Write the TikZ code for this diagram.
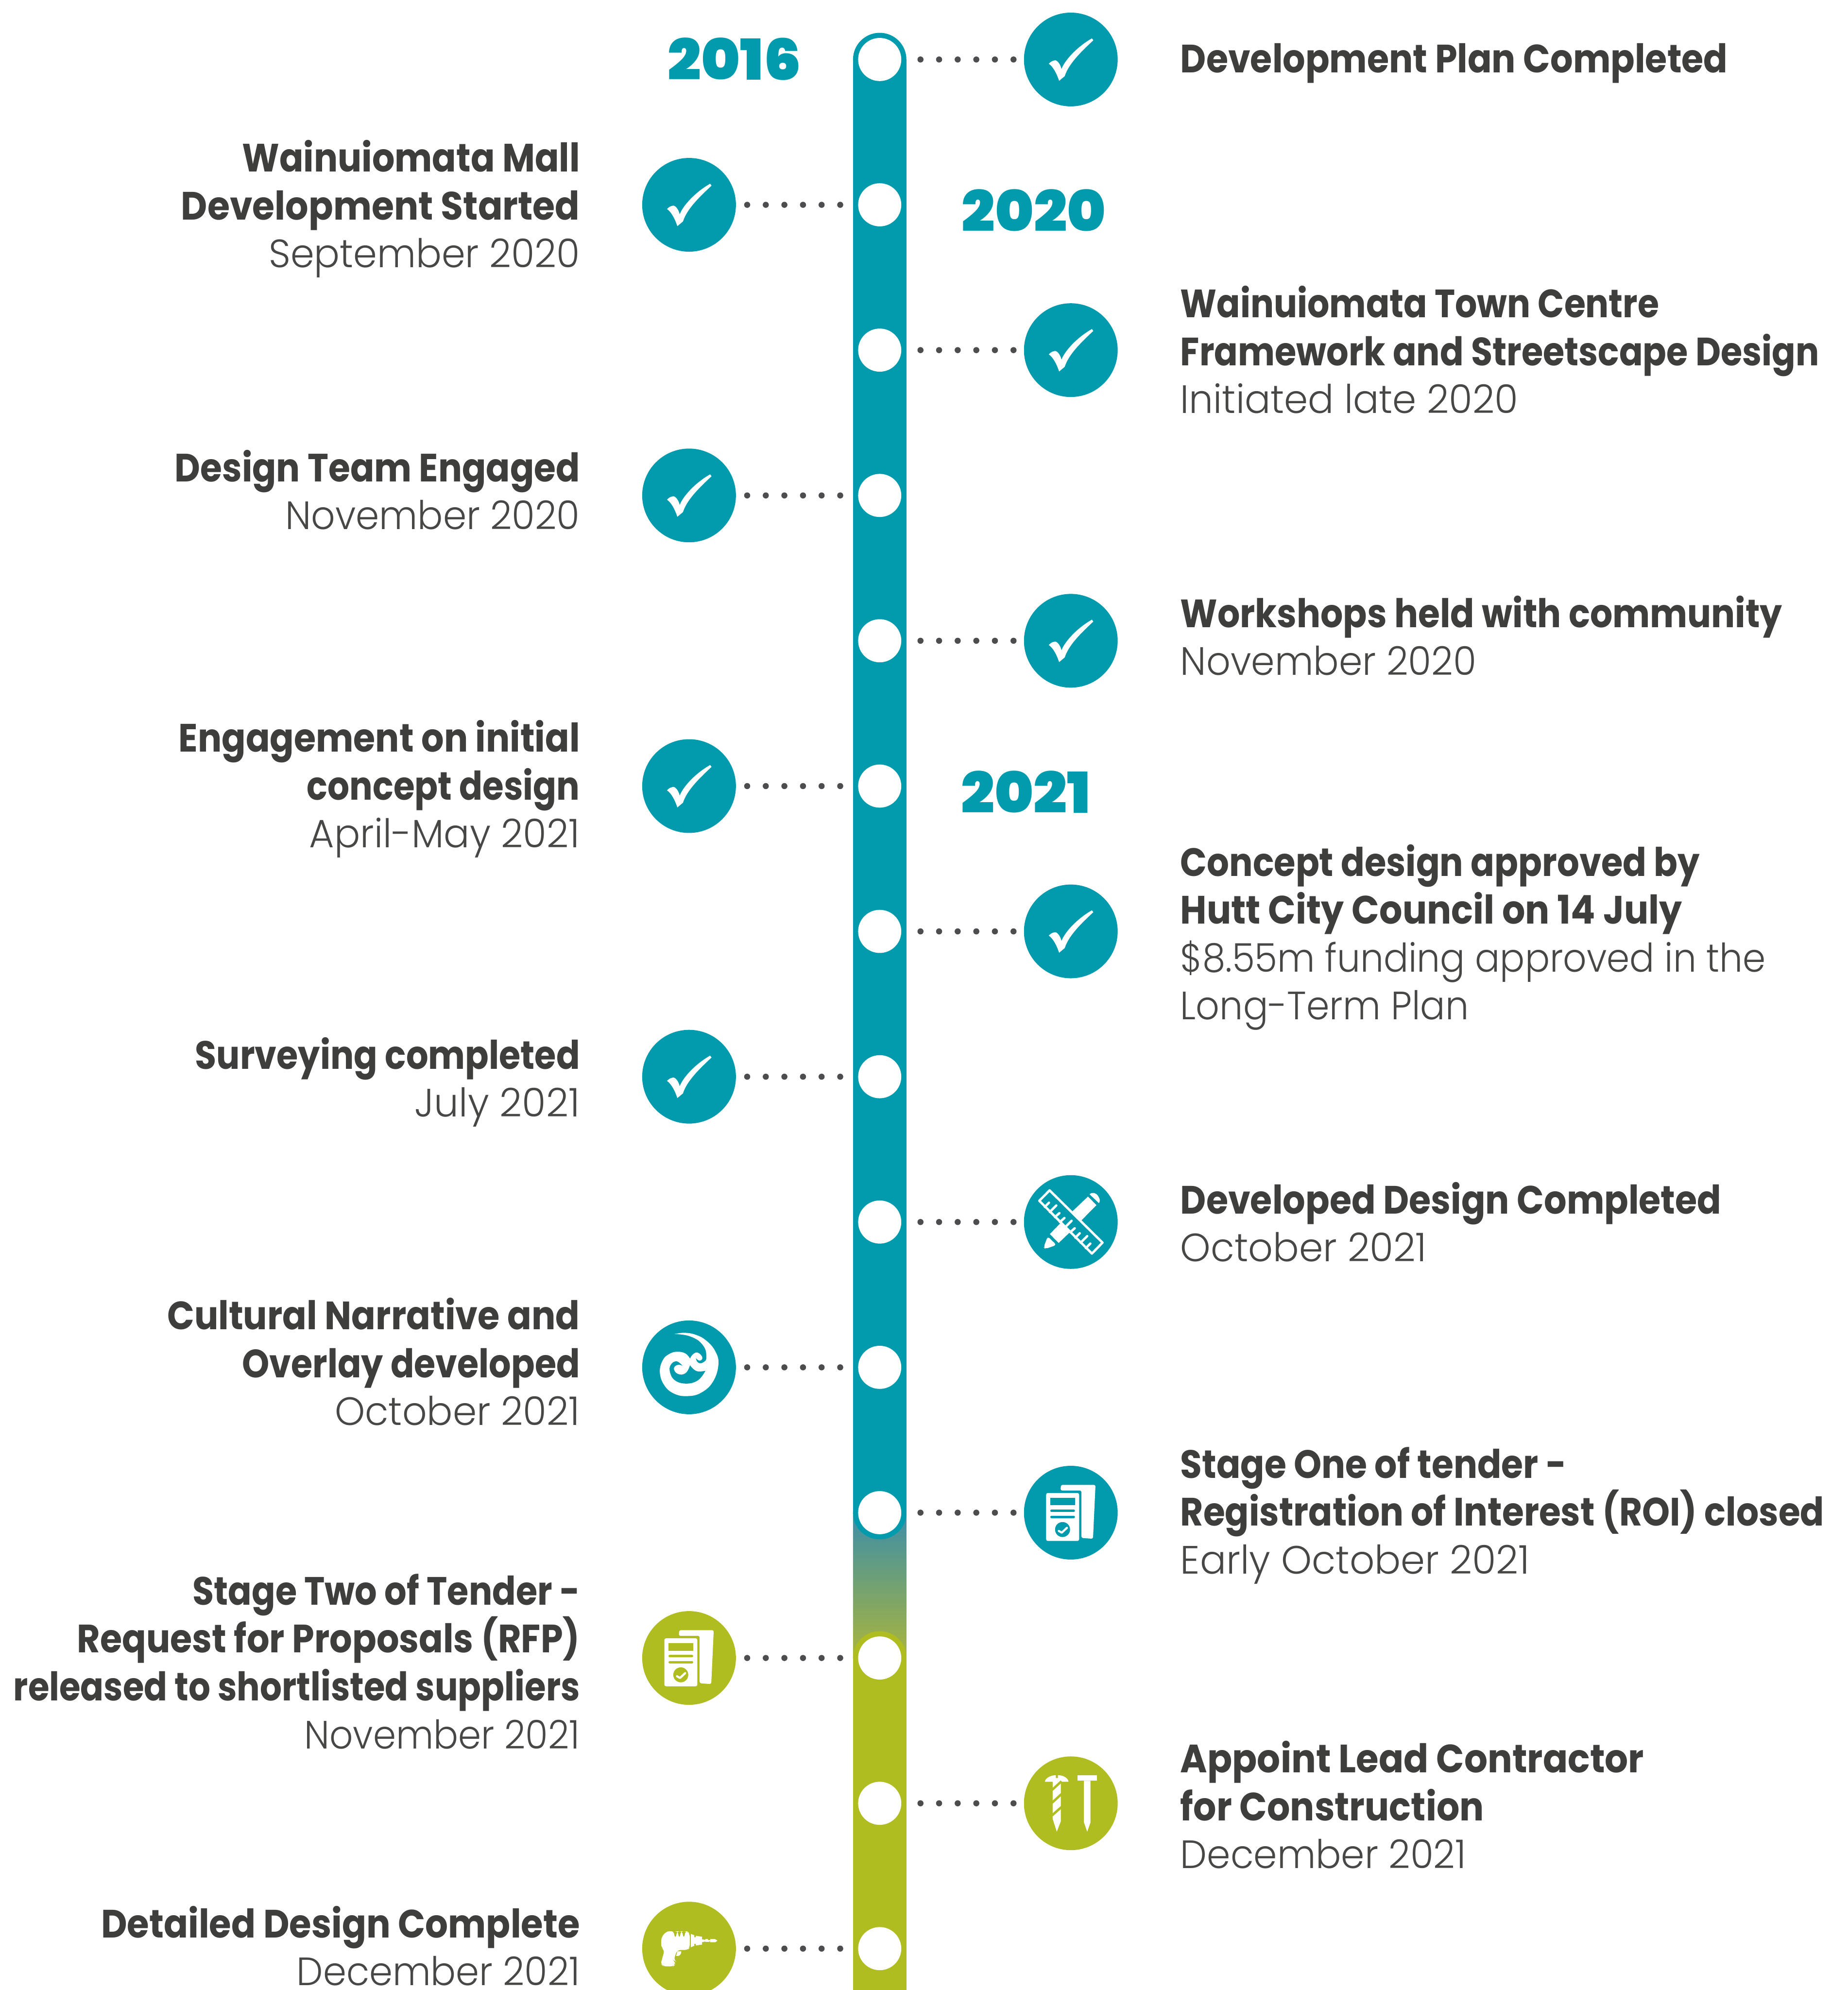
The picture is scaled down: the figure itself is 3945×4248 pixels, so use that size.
\documentclass[tikz,border=0pt]{standalone}
\usepackage{fontspec}
\usepackage{graphicx}
\setmainfont{Poppins}
\newfontfamily\fbold{Poppins Bold}
\newfontfamily\flight{Poppins Light}
\newfontfamily\fyear{Poppins Black}
\definecolor{tealc}{HTML}{029BAD}
\definecolor{olivec}{HTML}{AFBD21}
\definecolor{dotc}{HTML}{4D4D4F}
\definecolor{boldc}{HTML}{3E3E3D}
\definecolor{lightc}{HTML}{474746}
% one printed line, set to the width it has in the reference (in units of the shrunk view)
\newlength{\fitw}
\newcommand{\fit}[2]{\setlength{\fitw}{#1\dimexpr 0.27095mm\relax}\resizebox{\fitw}{\height}{#2}}
\newcommand{\bt}[2]{\fit{#1}{#2}}
\newcommand{\lt}[2]{\fit{#1}{\flight\color{lightc}#2}}
\newcommand{\fst}{\rule{0pt}{22.76pt}}
\tikzset{
 wp/.style={circle,fill=white,minimum size=0.92cm,inner sep=0,outer sep=0},
 iconbg/.style={circle,minimum size=2cm,inner sep=0,outer sep=0},
 dots/.style={draw=dotc,line width=.13cm,line cap=round,dash pattern=on 0pt off .397cm},
 txt/.style={inner sep=0,outer sep=0,text=boldc,font=\fontsize{24}{29.05}\selectfont\fbold,execute at begin node={\lineskiplimit=-30pt\relax}},
 ltxt/.style={txt,anchor=north east,align=right},
 rtxt/.style={txt,anchor=north west,align=left},
 yearlab/.style={inner sep=0,outer sep=0,text=tealc},
 pics/checkmark/.style={code={
  \fill[white] (-25,45.5) -- (-13,35.5) .. controls (-5,10) and (20,-15) .. (48,-41) -- (45,-45)
   .. controls (15,-28) and (-12,0) .. (-20,20.5) .. controls (-22,10) and (-30,0) .. (-35,2)
   .. controls (-41,3) and (-44,6) .. (-47,9) .. controls (-38,15) and (-30,30) .. cycle;
 }},
 pics/rulericon/.style={code={
  \begin{scope}[scale=1/3,shift={(-408,-388)}]
   \fill[white] (418,320) -- (518,225) -- (572,280) -- (475,378) -- cycle;
   \fill[white] (528,210) .. controls (545,195) and (570,200) .. (583,222) .. controls (595,240) and (597,255) .. (588,267) -- cycle;
   \fill[white] (340,397) -- (400,455) -- (330,522) -- (274,465) -- cycle;
   \fill[white,rounded corners=1.5] (260,480) -- (316,535) -- (245,560) -- (234,550) -- cycle;
   \draw[white,line width=.05cm,line join=round] (272,185) -- (611,520) -- (543,590) -- (206,252) -- cycle;
   \draw[white,line width=.05cm,line cap=round]
    (241,291) -- (268,264) (273.5,323.5) -- (315,282) (306,356) -- (335,331) (338,388) -- (367,362)
    (372,421) -- (413,380) (404,453) -- (433,428) (437,488) -- (465,460) (471,520) -- (513,478) (504,555) -- (533,526);
  \end{scope}
 }},
 pics/koruicon/.style={code={
  \begin{scope}[scale=1/3,shift={(-392,-388)}]
   \fill[white] plot[smooth,tension=.7] coordinates {(298,175) (360,167) (430,178) (500,215) (560,285) (580,370) (545,480) (470,550) (385,572) (300,558) (235,505) (205,420) (225,340) (270,300) (320,288) (370,300) (398,332)}
    -- plot[smooth,tension=.8] coordinates {(398,332) (420,302) (450,295) (477,325) (460,345) (435,328)}
    -- plot[smooth,tension=.8] coordinates {(435,328) (450,358) (485,355) (503,320) (480,245) (400,190) (298,175)} -- cycle;
   \fill[tealc] plot[smooth,tension=.7] coordinates {(398,375) (440,412) (497,410)}
    -- plot[smooth,tension=.7] coordinates {(497,410) (450,470) (375,492) (300,470) (268,410) (280,365) (315,350) (350,378)}
    -- plot[smooth,tension=.8] coordinates {(350,378) (320,372) (295,395) (320,430) (370,425) (398,375)} -- cycle;
  \end{scope}
 }},
 pics/docicon/.style={code={
  \begin{scope}[scale=1/3,shift={(-408,-388)}]
   \fill[white,rounded corners=1] (345,210) -- (566,210) -- (550,555) -- (476,550) -- (476,246) -- (342,246) -- cycle;
   \fill[white,rounded corners=1] (250,262) rectangle (461,569);
   \fill[#1] (277,293) rectangle (434,341);
   \draw[#1,line width=.05cm,line cap=round] (284,376) -- (427,376) (284,415) -- (427,415);
   \fill[#1] (355,496) circle[radius=48];
   \draw[white,line width=.045cm,line cap=round,line join=round] (331,505) -- (350,516) -- (383,485);
  \end{scope}
 }},
 pics/screwicon/.style={code={
  \begin{scope}[scale=1/3,shift={(-408,-390)}]
   \fill[white] (242,252) .. controls (245,225) and (285,210) .. (312,210) -- (312,228) -- (325,228) -- (325,210) .. controls (355,210) and (390,225) .. (393,252) -- cycle;
   \fill[white] (292,250) -- (344,250) -- (344,505) -- (318,572) -- (292,490) -- cycle;
   \draw[olivec,line width=.05cm] (288,304) -- (348,249) (288,386) -- (348,331) (288,467) -- (348,414);
   \fill[white] (450,210) rectangle (576,246);
   \fill[white] (492,246) -- (534,246) -- (534,512) -- (513,572) -- (492,512) -- cycle;
  \end{scope}
 }},
 pics/drillicon/.style={code={
  \begin{scope}[xscale=1/2.529,yscale=1/3,shift={(-330,-391)}]
   \fill[white,rounded corners=2] (180,360) .. controls (180,310) and (205,280) .. (240,280) -- (250,280) -- (250,322) -- (262,322) -- (262,280) -- (272,280) -- (272,322) -- (283,322) -- (283,280) -- (296,280) -- (296,322) -- (307,322) -- (307,280) -- (320,280) -- (334,295) -- (334,385) -- (322,400) -- (265,400) -- (247,465) -- (254,470) -- (254,495) -- (245,505) -- (190,505) -- (180,490) -- (180,475) -- (198,400) -- (180,385) -- cycle;
   \fill[white] (267,408) -- (288,408) .. controls (288,425) and (280,438) .. (270,438) -- (260,438) -- cycle;
   \fill[white] (340,297) -- (358,305) -- (358,318) -- (367,318) -- (367,309) -- (400,315) -- (400,332) -- (418,335) -- (418,330) -- (432,330) -- (432,336) -- (445,336) -- (445,330) -- (470,330) -- (483,340) -- (472,350) -- (445,350) -- (445,345) -- (432,348) -- (418,348) -- (418,345) -- (400,350) -- (400,365) -- (367,371) -- (367,360) -- (358,360) -- (358,373) -- (340,382) -- cycle;
  \end{scope}
 }},
}
\newcommand{\rowL}[3]{%
 \pgfmathsetmacro\yy{127+310.2*#1}%
 \node[wp] (w#1) at (1878,\yy) {};
 \node[iconbg,fill=#2] (i#1) at (1471,\yy) {};
 \pic at (i#1.center) {#3};
 \draw[dots,shorten <=.24cm,shorten >=.38cm] (i#1.east) -- (w#1.west);
}
\newcommand{\rowR}[3]{%
 \pgfmathsetmacro\yy{127+310.2*#1}%
 \node[wp] (w#1) at (1878,\yy) {};
 \node[iconbg,fill=#2] (i#1) at (2286,\yy) {};
 \pic at (i#1.center) {#3};
 \draw[dots,shorten <=.41cm,shorten >=.22cm] (w#1.east) -- (i#1.west);
}
\begin{document}
\begin{tikzpicture}[x=.01cm,y=-.01cm]
\useasboundingbox (0,0) rectangle (3945,4248);
\clip (0,0) rectangle (3945,4248);
% spine
\fill[tealc] (1821,127) rectangle (1935,3229);
\fill[tealc] (1878,127) circle[radius=57];
\shade[top color={rgb,255:red,59;green,142;blue,169},bottom color={rgb,255:red,170;green,181;blue,60}] (1821,3229) rectangle (1935,3539);
\fill[tealc] (1878,3229) circle[radius=57];
\fill[olivec] (1878,3539) circle[radius=57];
\fill[olivec] (1821,3539) rectangle (1935,4248);
% rows
\rowR{0}{tealc}{checkmark}
\rowL{1}{tealc}{checkmark}
\rowR{2}{tealc}{checkmark}
\rowL{3}{tealc}{checkmark}
\rowR{4}{tealc}{checkmark}
\rowL{5}{tealc}{checkmark}
\rowR{6}{tealc}{checkmark}
\rowL{7}{tealc}{checkmark}
\rowR{8}{tealc}{rulericon}
\rowL{9}{tealc}{koruicon}
\rowR{10}{tealc}{docicon=tealc}
\rowL{11}{olivec}{docicon=olivec}
\rowR{12}{olivec}{screwicon}
\rowL{13}{olivec}{drillicon}
% years
\node[yearlab] (y2016) at (1568,126) {\resizebox{2.84cm}{.9cm}{\fyear 2016}};
\node[yearlab] (y2020) at (2207,449) {\resizebox{3.07cm}{.9cm}{\fyear 2020}};
\node[yearlab] (y2021) at (2190,1691) {\resizebox{2.76cm}{.9cm}{\fyear 2021}};
% left texts
\node[ltxt] (t1) at (1238,287) {\fst\bt{266}{Wainuiomata Mall}\\\bt{314}{Development Started}\\\lt{245}{September 2020}};
\node[ltxt] (t3) at (1238,948) {\fst\bt{319}{Design Team Engaged}\\\lt{232}{November 2020}};
\node[ltxt] (t5) at (1238,1525) {\fst\bt{316}{Engagement on initial}\\\bt{215}{concept design}\\\lt{213}{April-May 2021}};
\node[ltxt] (t7) at (1238,2202) {\fst\bt{303}{Surveying completed}\\\lt{130}{July 2021}};
\node[ltxt] (t9) at (1238,2758) {\fst\bt{325}{Cultural Narrative and}\\\bt{266}{Overlay developed}\\\lt{193}{October 2021}};
\node[ltxt] (t11) at (1238,3346) {\fst\bt{305}{Stage Two of Tender -}\\\bt{396}{Request for Proposals (RFP)}\\\bt{446}{released to shortlisted suppliers}\\\lt{217}{November 2021}};
\node[ltxt] (t13) at (1238,4056) {\fst\bt{377}{Detailed Design Complete}\\\lt{223}{December 2021}};
% right texts
\node[rtxt] (t0) at (2520,75) {\fst\bt{431}{Development Plan Completed}};
\node[rtxt] (t2) at (2520,598) {\fst\bt{377}{Wainuiomata Town Centre}\\\bt{503}{Framework and Streetscape Design}\\\lt{266}{Initiated late 2020}};
\node[rtxt] (t4) at (2520,1259) {\fst\bt{474}{Workshops held with community}\\\lt{233}{November 2020}};
\node[rtxt] (t6) at (2520,1790) {\fst\bt{409}{Concept design approved by}\\\bt{395}{Hutt City Council on 14 July}\\\lt{461}{\$8.55m funding approved in the}\\\lt{227}{Long-Term Plan}};
\node[rtxt] (t8) at (2520,2511) {\fst\bt{426}{Developed Design Completed}\\\lt{194}{October 2021}};
\node[rtxt] (t10) at (2520,3075) {\fst\bt{304}{Stage One of tender -}\\\bt{507}{Registration of Interest (ROI) closed}\\\lt{275}{Early October 2021}};
\node[rtxt] (t12) at (2520,3704) {\fst\bt{365}{Appoint Lead Contractor}\\\bt{239}{for Construction}\\\lt{225}{December 2021}};
\end{tikzpicture}
\end{document}
